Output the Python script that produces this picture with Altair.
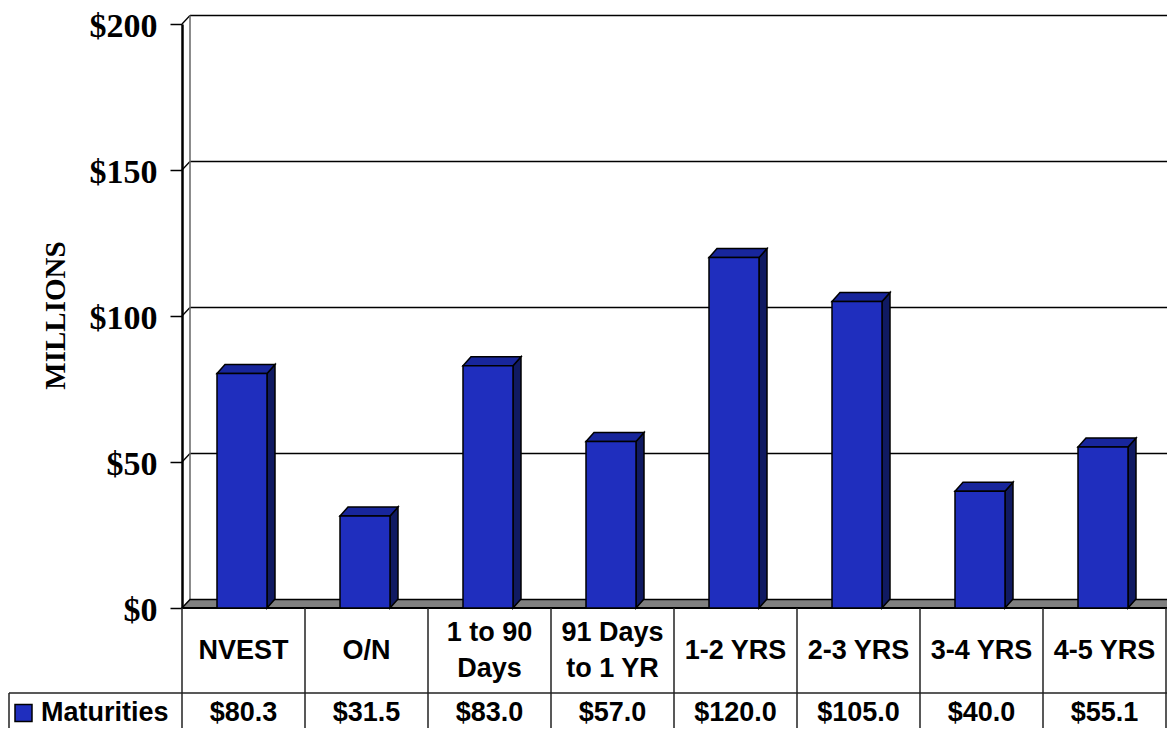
import altair as alt
import pandas as pd

# ---- data ----
categories = ["NVEST", "O/N", "1 to 90\nDays", "91 Days\nto 1 YR",
              "1-2 YRS", "2-3 YRS", "3-4 YRS", "4-5 YRS"]
values = [80.3, 31.5, 83.0, 57.0, 120.0, 105.0, 40.0, 55.1]
series_name = "Maturities"
y_ticks = [0, 50, 100, 150, 200]

# ---- geometry / style ----
W, H = 984, 584
N = len(categories)
PX = W / N
PY = H / 200.0
def ux(p): return p / PX
def uy(p): return p / PY

FRONT = "#1F2EBE"
TOP = "#18269C"
SIDE = "#101A62"
FLOOR = "#808080"

bar_l, bar_w = ux(35), ux(50)
bdx, bdy = ux(8), uy(9)
wdx, wdy = ux(8), uy(8.5)
XR = N + 0.3
Y_ROW = -uy(85)
Y_CAT = -uy(43)
Y_VAL = -uy(105)
Y_BOT = -uy(140)
X_LEFT = ux(-173)

xs = alt.Scale(domain=[0, N], nice=False, zero=False)
ys = alt.Scale(domain=[0, 200], nice=False, zero=False)

def X(f):
    return alt.X(f, type="quantitative", scale=xs, axis=None)
def Y(f, **kw):
    return alt.Y(f, type="quantitative", scale=ys, **kw)

# ---- back wall grid ----
grid_df = pd.DataFrame({"v": y_ticks[1:]})
grid_df["y"] = grid_df["v"] + wdy
grid_df["x"] = wdx
grid_df["x2"] = XR
gridlines = alt.Chart(grid_df).mark_rule(color="black", strokeWidth=1.3).encode(
    x=X("x"), x2="x2", y=Y("y"))

diag_df = pd.DataFrame({"v": y_ticks[1:]})
diag_df["x"] = 0.0
diag_df["x2"] = wdx
diag_df["y2"] = diag_df["v"] + wdy
diags = alt.Chart(diag_df).mark_rule(color="black", strokeWidth=1.3).encode(
    x=X("x"), x2="x2", y=Y("v"), y2="y2")

wall_df = pd.DataFrame({"x": [wdx], "y": [wdy], "y2": [200 + wdy]})
wall = alt.Chart(wall_df).mark_rule(color="#666666", strokeWidth=1.5).encode(
    x=X("x"), y=Y("y"), y2="y2")

# ---- floor ----
floor_df = pd.DataFrame({"y": [0.0, wdy], "x": [0.0, wdx], "x2": [XR, XR]})
floor = alt.Chart(floor_df).mark_area(orient="horizontal", color=FLOOR, stroke="black",
                                      strokeWidth=1.5).encode(
    y=Y("y"), x=alt.X("x", type="quantitative", scale=xs, axis=None, stack=None), x2="x2")
floor_bottom = alt.Chart(pd.DataFrame({"x": [0.0], "x2": [XR], "y": [0.0]})).mark_rule(
    color="black", strokeWidth=2).encode(x=X("x"), x2="x2", y=Y("y"))

# ---- bars ----
bars = pd.DataFrame({"name": categories, "v": values, "i": range(N)})
bars["x0"] = bars["i"] + bar_l
bars["x1"] = bars["x0"] + bar_w

top_rows, side_rows = [], []
for name, v, x0, x1 in zip(bars["name"], bars["v"], bars["x0"], bars["x1"]):
    top_rows.append({"name": name, "y": v, "x": x0, "x2": x1})
    top_rows.append({"name": name, "y": v + bdy, "x": x0 + bdx, "x2": x1 + bdx})
    side_rows.append({"name": name, "x": x1, "y": v, "y2": 0.0})
    side_rows.append({"name": name, "x": x1 + bdx, "y": v + bdy, "y2": bdy})
top_df = pd.DataFrame(top_rows)
side_df = pd.DataFrame(side_rows)

tops = alt.Chart(top_df).mark_area(orient="horizontal", color=TOP, stroke="black",
                                   strokeWidth=1.5).encode(
    y=Y("y"), x=alt.X("x", type="quantitative", scale=xs, axis=None, stack=None),
    x2="x2", detail="name:N")
sides = alt.Chart(side_df).mark_area(orient="vertical", color=SIDE, stroke="black",
                                     strokeWidth=1.5).encode(
    x=X("x"), y=Y("y", stack=None), y2="y2", detail="name:N")

yaxis = alt.Axis(values=y_ticks, labelExpr="'$' + datum.value",
                 labelFont="Liberation Serif", labelFontSize=34, labelFontWeight="bold",
                 labelColor="black", labelPadding=13, labelOffset=2,
                 tickSize=12, tickColor="black",
                 tickWidth=1.5, domainColor="black", domainWidth=2.5, grid=False,
                 labelFlush=False, labelOverlap=False,
                 title="MILLIONS", titleFont="Liberation Serif", titleFontSize=29,
                 titleFontWeight="bold", titleColor="black", titleAngle=270,
                 titleX=-127, titleY=291, titleAlign="center", titleBaseline="middle")

bars["zero"] = 0.0
fronts = alt.Chart(bars).mark_rect(color=FRONT, stroke="black", strokeWidth=1.5).encode(
    x=X("x0"), x2="x1", y=Y("zero", axis=yaxis), y2="v")

# ---- data table ----
vl_df = pd.DataFrame({"x": [float(i) for i in range(N + 1)]})
vl_df["y"] = 0.0
vl_df["y2"] = Y_BOT
vlines = alt.Chart(vl_df).mark_rule(color="#222222", strokeWidth=1.5).encode(
    x=X("x"), y=Y("y"), y2="y2")
hl = alt.Chart(pd.DataFrame({"x": [X_LEFT], "x2": [XR], "y": [Y_ROW]})).mark_rule(
    color="#222222", strokeWidth=1.5).encode(x=X("x"), x2="x2", y=Y("y"))
lb = alt.Chart(pd.DataFrame({"x": [X_LEFT], "y": [Y_ROW], "y2": [Y_BOT]})).mark_rule(
    color="#222222", strokeWidth=1.5).encode(x=X("x"), y=Y("y"), y2="y2")

LINE_H = 36
txt_df = pd.DataFrame({"name": categories, "x": [i + 0.5 for i in range(N)],
                       "val": [f"${v:.1f}" for v in values]})
txt_df["yc"] = [Y_CAT + uy(LINE_H / 2 * (c.count("\n"))) for c in categories]
txt_df["yv"] = Y_VAL
cat_text = alt.Chart(txt_df).mark_text(font="Liberation Sans", fontSize=27, fontWeight="bold",
                                       color="black", lineBreak="\n", lineHeight=LINE_H,
                                       align="center", baseline="middle").encode(
    x=X("x"), y=Y("yc"), text="name:N")
val_text = alt.Chart(txt_df).mark_text(font="Liberation Sans", fontSize=27, fontWeight="bold",
                                       color="black", align="center", baseline="middle").encode(
    x=X("x"), y=Y("yv"), text="val:N")

leg_df = pd.DataFrame({"x": [ux(-158.5)], "xt": [ux(-141)], "y": [Y_VAL], "name": [series_name]})
leg_sq = alt.Chart(leg_df).mark_point(shape="square", filled=True, size=289, color=FRONT,
                                      stroke="black", strokeWidth=1.5, opacity=1).encode(
    x=X("x"), y=Y("y"))
leg_txt = alt.Chart(leg_df).mark_text(font="Liberation Sans", fontSize=27, fontWeight="bold",
                                      color="black", align="left", baseline="middle").encode(
    x=X("xt"), y=Y("y"), text="name:N")

chart = alt.layer(
    gridlines, diags, wall, floor, floor_bottom, sides, tops, fronts,
    vlines, hl, lb, cat_text, val_text, leg_sq, leg_txt
).properties(
    width=W, height=H,
    padding={"left": 174, "top": 16, "right": 1, "bottom": 120},
    autosize=alt.AutoSizeParams(type="none"),
    background="white",
).configure_view(stroke=None).configure_axisY(grid=False)

chart.save("out.html", embed_options={"renderer": "svg", "actions": False})
